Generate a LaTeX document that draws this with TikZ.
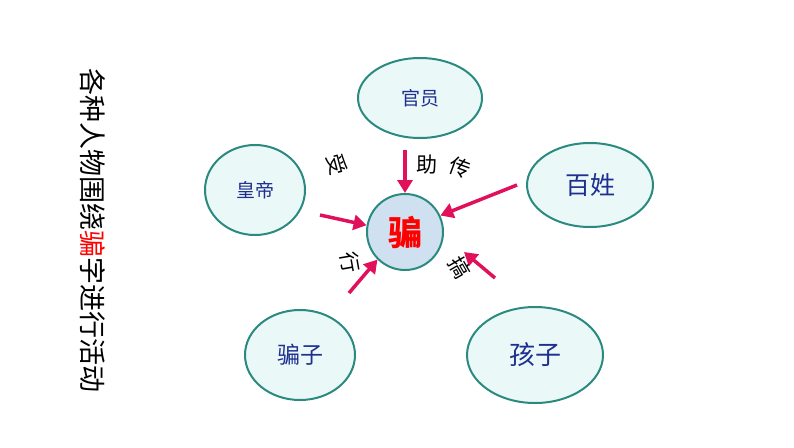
\documentclass[tikz,border=0pt]{standalone}
\usepackage{fontspec}
\setmainfont{Noto Sans CJK SC}
\usetikzlibrary{shapes.geometric,arrows.meta}
\definecolor{ebd}{HTML}{2A8A80}
\definecolor{efill}{HTML}{EAF8F8}
\definecolor{arr}{HTML}{E0105A}
\definecolor{txt}{HTML}{1F2F8F}
\tikzset{
 el/.style={ellipse,draw=ebd,line width=2pt,fill=efill,text=txt,inner sep=0pt},
 ar/.style={arr,line width=3.5pt,-{Triangle[length=13pt,width=15pt]}},
 lb/.style={font=\fontsize{21}{21}\selectfont}
}
\begin{document}
\begin{tikzpicture}[x=1pt,y=-1pt]
\useasboundingbox (0,0) rectangle (794,447);
\node[el,minimum width=124pt,minimum height=80pt,font=\fontsize{19}{19}\selectfont] (gy) at (420,98) {官员};
\node[el,minimum width=100pt,minimum height=90pt,font=\fontsize{19}{19}\selectfont] (hd) at (255,190) {皇帝};
\node[el,minimum width=126pt,minimum height=84pt,font=\fontsize{25}{25}\selectfont] (bx) at (590,185) {百姓};
\node[el,minimum width=110pt,minimum height=90pt,font=\fontsize{23}{23}\selectfont] (pz) at (300,355) {骗子};
\node[el,minimum width=136pt,minimum height=96pt,font=\fontsize{26}{26}\selectfont] (hz) at (535,355) {孩子};
\node[circle,draw=ebd,line width=2pt,fill={rgb,255:red,207;green,224;blue,240},minimum size=76pt,text=red,font=\bfseries\fontsize{34}{34}\selectfont] (c) at (405,232) {骗};
\coordinate (s1) at (405,150);
\coordinate (s2) at (320,215);
\coordinate (s3) at (517,185);
\coordinate (s4) at (349,293);
\coordinate (s5) at (495,278);
\coordinate (e5) at (464,252);
\draw[ar] (s1) -- (c.north);
\draw[ar] (s2) -- (c.170);
\draw[ar] (s3) -- (c.25);
\draw[ar] (s4) -- (c.225);
\draw[ar] (s5) -- (e5);
\node[lb,rotate=-75] (l1) at (337,165) {受};
\node[lb] (l2) at (427,165) {助};
\node[lb,rotate=-20] (l3) at (460,168) {传};
\node[lb,rotate=-80] (l4) at (350,262) {行};
\node[lb,rotate=-60] (l5) at (460,268) {搞};
\node[rotate=-90,font=\fontsize{27}{27}\selectfont] (t) at (93,230) {各种人物围绕\textcolor{red}{骗}字进行活动};
\end{tikzpicture}
\end{document}
